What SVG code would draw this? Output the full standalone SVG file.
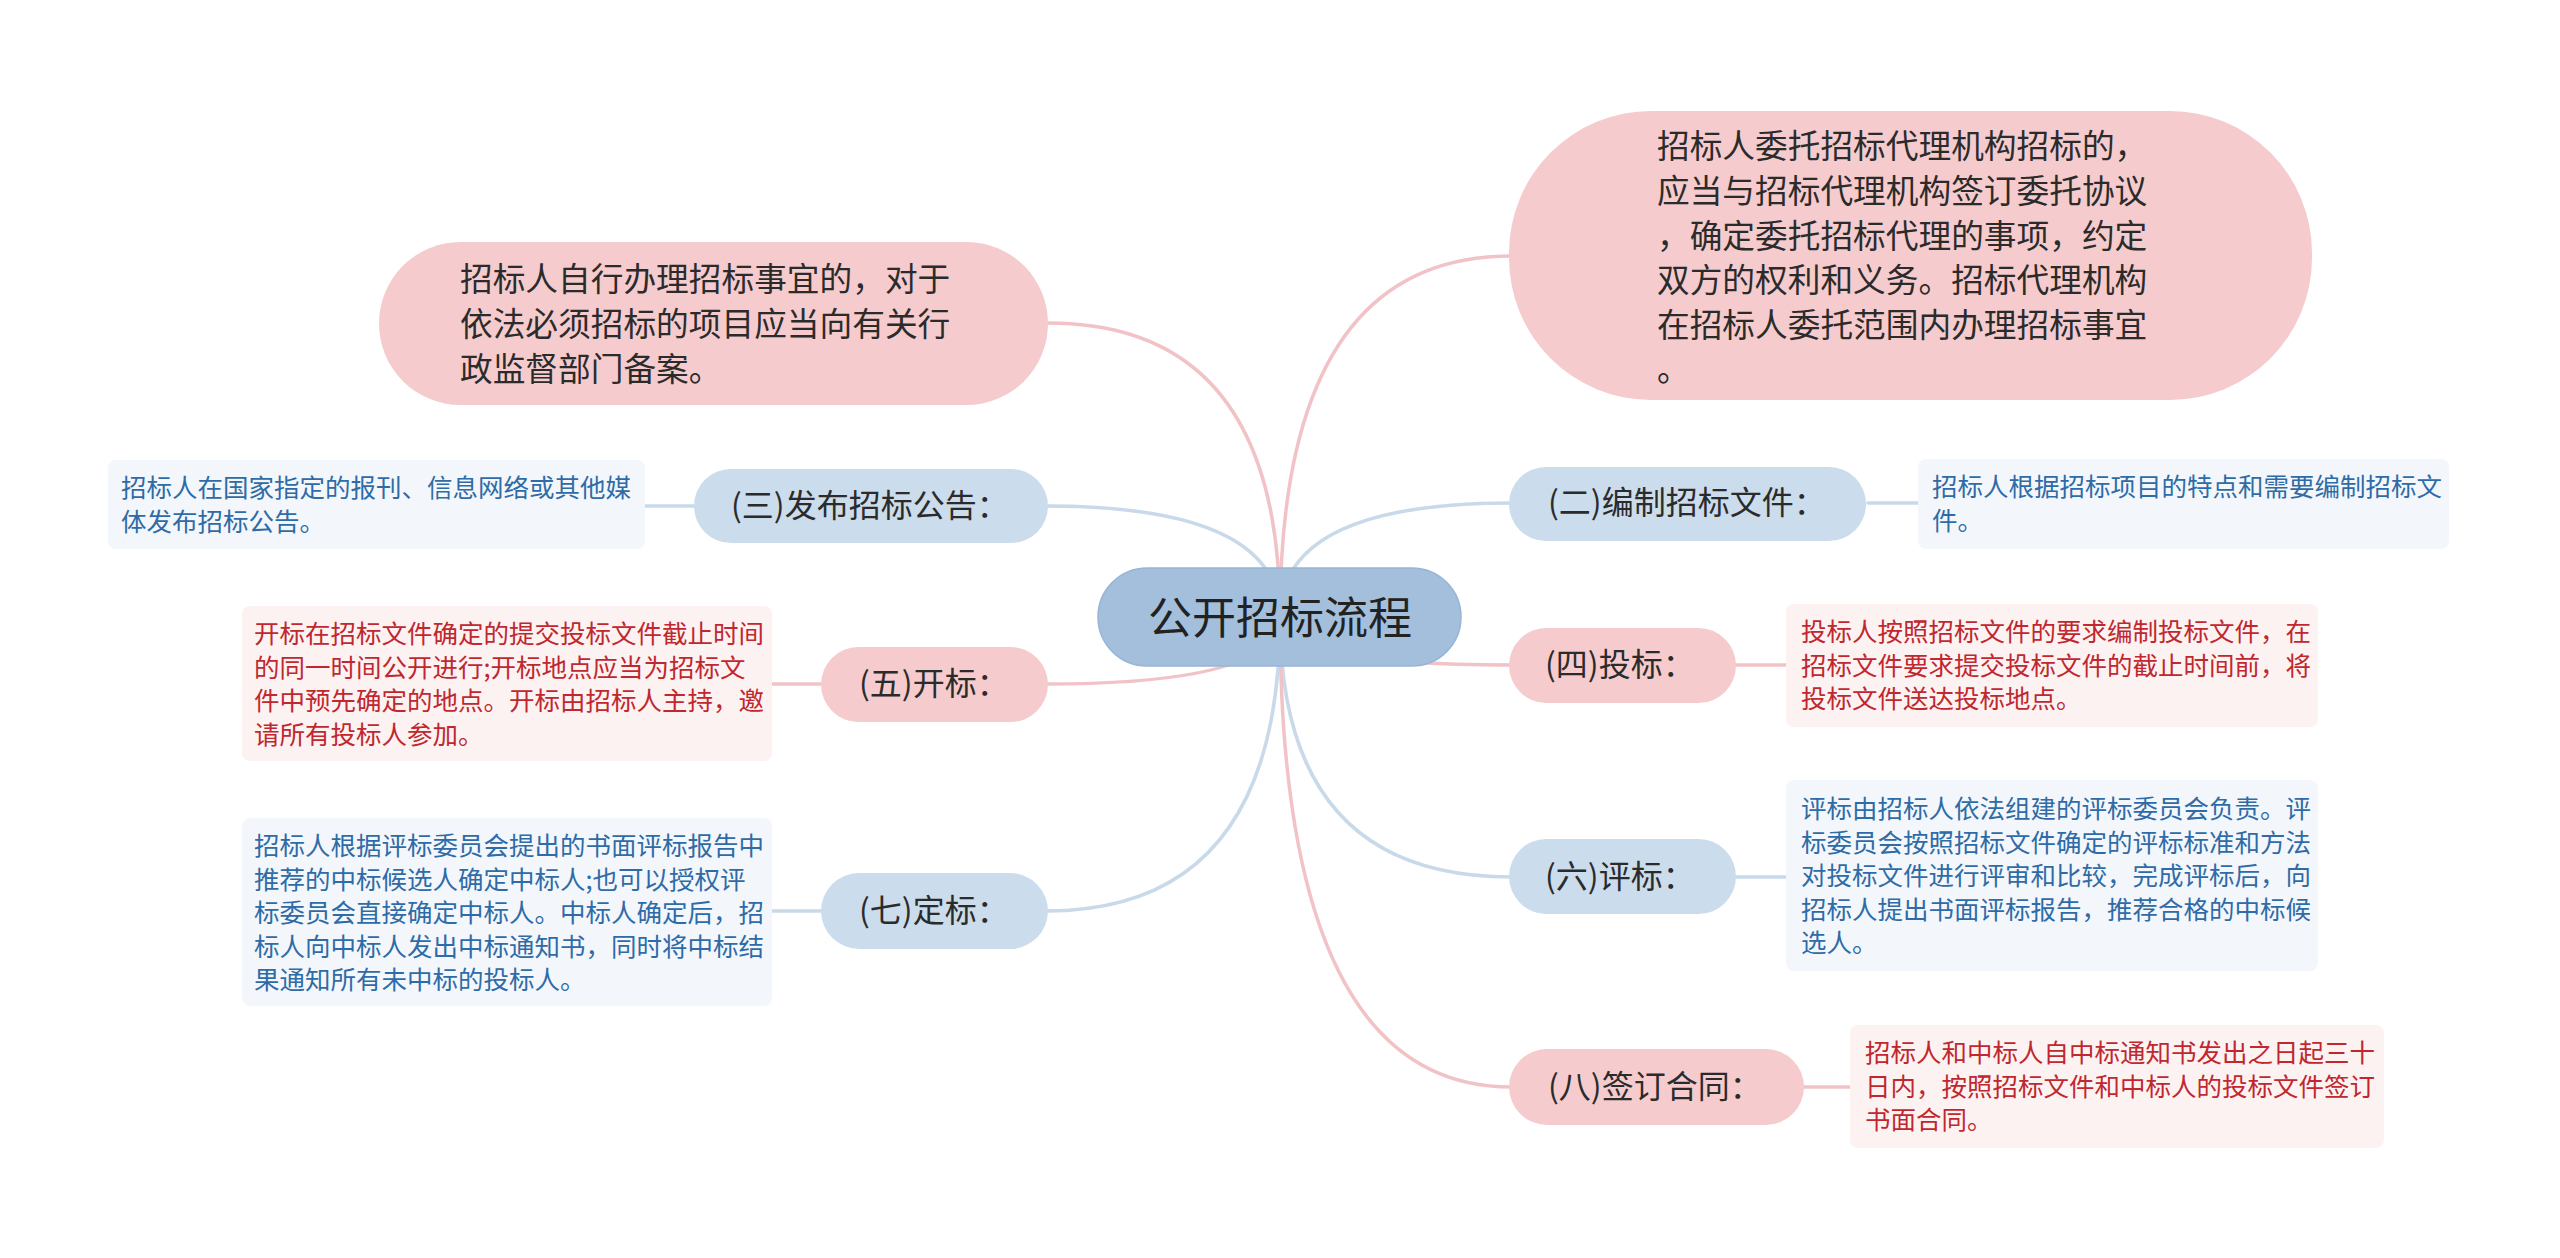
<svg xmlns="http://www.w3.org/2000/svg" width="2560" height="1258" viewBox="0 0 2560 1258">
<style>
text{font-family:"Noto Sans CJK SC","Noto Sans",sans-serif;}
.c{fill:none;stroke-width:3.5;stroke-linecap:round}
.cp{stroke:#f2c3c6}
.cb{stroke:#c8d9ea}
.root{fill:#a3bfdc;stroke:#97b5d5;stroke-width:1.5}
.rt{font-size:44px;fill:#222}
.pk{fill:#f5cbcd}
.bl{fill:#cbdcec}
.bt{font-size:32px;fill:#2b2b2b}
.big{font-size:32.7px;fill:#2b2b2b}
.lb{fill:#f3f7fc}
.lp{fill:#fcf2f2}
.tb{font-size:25.5px;fill:#2f6ba6}
.tp{font-size:25.5px;fill:#c0272e}
</style>
<rect width="2560" height="1258" fill="#ffffff"/>
<g id="connectors">
<path class="c cp" d="M1280 617 Q1280 323 1048 323"/>
<path class="c cp" d="M1280 617 Q1280 256 1511 256"/>
<path class="c cb" d="M1280 617 Q1280 506 1046 506"/>
<path class="c cb" d="M1280 617 Q1280 503 1511 503"/>
<path class="c cp" d="M1280 617 Q1280 684 1046 684"/>
<path class="c cp" d="M1280 617 Q1280 665 1511 665"/>
<path class="c cb" d="M1280 617 Q1280 911 1046 911"/>
<path class="c cb" d="M1280 617 Q1280 877 1511 877"/>
<path class="c cp" d="M1280 617 Q1280 1087 1511 1087"/>
<line class="c cb" x1="645" y1="506" x2="696" y2="506"/>
<line class="c cb" x1="1868" y1="503" x2="1918" y2="503"/>
<line class="c cp" x1="772" y1="684" x2="823" y2="684"/>
<line class="c cp" x1="1734" y1="665" x2="1786" y2="665"/>
<line class="c cb" x1="772" y1="911" x2="823" y2="911"/>
<line class="c cb" x1="1734" y1="877" x2="1786" y2="877"/>
<line class="c cp" x1="1802" y1="1087" x2="1850" y2="1087"/>
</g>
<g id="root">
<rect class="root" x="1098" y="568" width="363" height="98" rx="49"/>
<text class="rt" x="1280" y="634" text-anchor="middle">公开招标流程</text>
</g>
<g id="n-self">
<rect class="pk" x="379" y="242" width="669" height="163" rx="81.5"/>
<text class="big" x="460" y="291">招标人自行办理招标事宜的，对于</text>
<text class="big" x="460" y="336">依法必须招标的项目应当向有关行</text>
<text class="big" x="460" y="381">政监督部门备案。</text>
</g>
<g id="n-agent">
<rect class="pk" x="1509" y="111" width="803" height="289" rx="142"/>
<text class="big" x="1657" y="158">招标人委托招标代理机构招标的，</text>
<text class="big" x="1657" y="203">应当与招标代理机构签订委托协议</text>
<text class="big" x="1657" y="248">，确定委托招标代理的事项，约定</text>
<text class="big" x="1657" y="292">双方的权利和义务。招标代理机构</text>
<text class="big" x="1657" y="337">在招标人委托范围内办理招标事宜</text>
<text class="big" x="1657" y="381">。</text>
</g>
<g id="n3">
<rect class="bl" x="694" y="469" width="354" height="74" rx="37"/>
<text class="bt" x="731" y="517">(三)发布招标公告：</text>
</g>
<g id="n3-leaf">
<rect class="lb" x="108" y="460" width="537" height="89" rx="8"/>
<text class="tb" x="121" y="497">招标人在国家指定的报刊、信息网络或其他媒</text>
<text class="tb" x="121" y="531">体发布招标公告。</text>
</g>
<g id="n2">
<rect class="bl" x="1509" y="467" width="357" height="74" rx="37"/>
<text class="bt" x="1548" y="514">(二)编制招标文件：</text>
</g>
<g id="n2-leaf">
<rect class="lb" x="1918" y="459" width="531" height="90" rx="8"/>
<text class="tb" x="1932" y="496">招标人根据招标项目的特点和需要编制招标文</text>
<text class="tb" x="1932" y="530">件。</text>
</g>
<g id="n5">
<rect class="pk" x="821" y="647" width="227" height="75" rx="37.5"/>
<text class="bt" x="859" y="695">(五)开标：</text>
</g>
<g id="n5-leaf">
<rect class="lp" x="242" y="606" width="530" height="155" rx="8"/>
<text class="tp" x="254" y="643">开标在招标文件确定的提交投标文件截止时间</text>
<text class="tp" x="254" y="677">的同一时间公开进行;开标地点应当为招标文</text>
<text class="tp" x="254" y="710">件中预先确定的地点。开标由招标人主持，邀</text>
<text class="tp" x="254" y="744">请所有投标人参加。</text>
</g>
<g id="n4">
<rect class="pk" x="1509" y="628" width="227" height="75" rx="37.5"/>
<text class="bt" x="1545" y="676">(四)投标：</text>
</g>
<g id="n4-leaf">
<rect class="lp" x="1786" y="604" width="532" height="123" rx="8"/>
<text class="tp" x="1801" y="641">投标人按照招标文件的要求编制投标文件，在</text>
<text class="tp" x="1801" y="675">招标文件要求提交投标文件的截止时间前，将</text>
<text class="tp" x="1801" y="708">投标文件送达投标地点。</text>
</g>
<g id="n7">
<rect class="bl" x="821" y="873" width="227" height="76" rx="38"/>
<text class="bt" x="859" y="922">(七)定标：</text>
</g>
<g id="n7-leaf">
<rect class="lb" x="242" y="818" width="530" height="188" rx="8"/>
<text class="tb" x="254" y="855">招标人根据评标委员会提出的书面评标报告中</text>
<text class="tb" x="254" y="889">推荐的中标候选人确定中标人;也可以授权评</text>
<text class="tb" x="254" y="922">标委员会直接确定中标人。中标人确定后，招</text>
<text class="tb" x="254" y="956">标人向中标人发出中标通知书，同时将中标结</text>
<text class="tb" x="254" y="989">果通知所有未中标的投标人。</text>
</g>
<g id="n6">
<rect class="bl" x="1509" y="839" width="227" height="75" rx="37.5"/>
<text class="bt" x="1545" y="888">(六)评标：</text>
</g>
<g id="n6-leaf">
<rect class="lb" x="1786" y="780" width="532" height="191" rx="8"/>
<text class="tb" x="1801" y="818">评标由招标人依法组建的评标委员会负责。评</text>
<text class="tb" x="1801" y="852">标委员会按照招标文件确定的评标标准和方法</text>
<text class="tb" x="1801" y="885">对投标文件进行评审和比较，完成评标后，向</text>
<text class="tb" x="1801" y="919">招标人提出书面评标报告，推荐合格的中标候</text>
<text class="tb" x="1801" y="952">选人。</text>
</g>
<g id="n8">
<rect class="pk" x="1509" y="1049" width="295" height="76" rx="38"/>
<text class="bt" x="1548" y="1098">(八)签订合同：</text>
</g>
<g id="n8-leaf">
<rect class="lp" x="1850" y="1025" width="534" height="123" rx="8"/>
<text class="tp" x="1865" y="1062">招标人和中标人自中标通知书发出之日起三十</text>
<text class="tp" x="1865" y="1096">日内，按照招标文件和中标人的投标文件签订</text>
<text class="tp" x="1865" y="1129">书面合同。</text>
</g>
</svg>
